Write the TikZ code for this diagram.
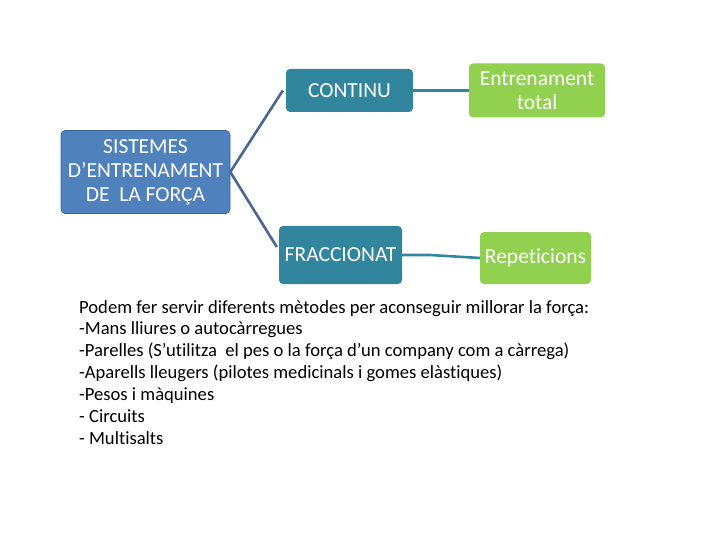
\documentclass[tikz,border=0pt]{standalone}
\usepackage{fontspec}
\setmainfont{Carlito}[Ligatures=NoCommon]
\definecolor{sisblue}{HTML}{4F81BD}
\definecolor{tealbox}{HTML}{31859C}
\definecolor{greenbox}{HTML}{92D050}
\definecolor{linkblue}{HTML}{4A6790}
\begin{document}
\begin{tikzpicture}[x=1pt,y=-1pt,
  boxbase/.style={rounded corners=4pt, text=white, align=center, inner sep=0pt},
  bluebox/.style={boxbase, fill=sisblue, draw=sisblue!80!black, line width=0.6pt},
  tealnode/.style={boxbase, fill=tealbox},
  greennode/.style={boxbase, fill=greenbox},
  leftlink/.style={draw=linkblue, line width=2.6pt},
  rightlink/.style={draw=tealbox, line width=2.6pt}]
\useasboundingbox (0,0) rectangle (720,540);
\node[bluebox, minimum width=169pt, minimum height=83pt, font=\fontsize{21.5}{24}\selectfont] (sis) at (145.5,172) {SISTEMES\\D’ENTRENAMENT\\DE~~LA FORÇA};
\node[tealnode, minimum width=127pt, minimum height=43pt, font=\fontsize{21.5}{24}\selectfont] (con) at (349.5,90.5) {CONTINU};
\node[greennode, minimum width=136pt, minimum height=54pt, font=\fontsize{21.5}{24}\selectfont] (ent) at (537,90.5) {Entrenament\\total};
\node[tealnode, minimum width=123pt, minimum height=58pt, font=\fontsize{21.5}{24}\selectfont] (fra) at (340.5,255) {FRACCIONAT};
\node[greennode, minimum width=111pt, minimum height=52pt, font=\fontsize{21.5}{24}\selectfont] (rep) at (535.5,258) {Repeticions};
\coordinate (ctop) at ([xshift=-3pt]con.west);
\coordinate (cbot) at ([xshift=-2pt,yshift=8pt]fra.west);
\draw[leftlink] (sis.east) -- (ctop);
\draw[leftlink] (sis.east) -- (cbot);
\draw[rightlink] (con.east) -- (ent.west);
\draw[rightlink] (fra.east) -- ++(28,0) -- (rep.west);
\node[anchor=north west, align=left, inner sep=0pt, font=\fontsize{18.6}{21.85}\selectfont] (txt) at (79,300) {Podem fer servir diferents mètodes per aconseguir millorar la força:\\
-Mans lliures o autocàrregues\\
-Parelles (S’utilitza~ el pes o la força d’un company com a càrrega)\\
-Aparells lleugers (pilotes medicinals i gomes elàstiques)\\
-Pesos i màquines\\
- Circuits\\
- Multisalts};
\end{tikzpicture}
\end{document}
